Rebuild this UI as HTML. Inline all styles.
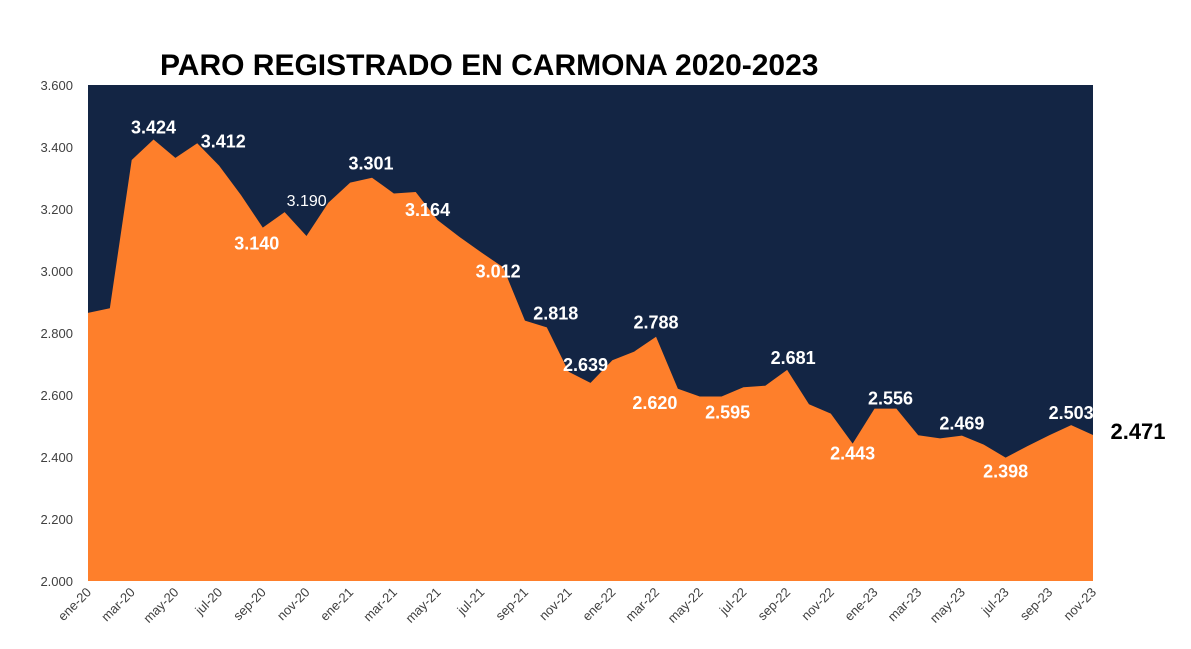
<!DOCTYPE html>
<html><head><meta charset="utf-8"><style>
body{margin:0;background:#fff;}
svg{display:block;font-family:"Liberation Sans",sans-serif;}
</style></head><body>
<svg id="chart" width="1191" height="649">
<text x="160" y="75" font-size="30" font-weight="bold" fill="#000">PARO REGISTRADO EN CARMONA 2020-2023</text>
<rect x="88" y="85" width="1005" height="496" fill="#132544"/>
<g id="marks"></g><g id="axes"></g><g id="labels"></g>
</svg>
<script>
const months=["ene","feb","mar","abr","may","jun","jul","ago","sep","oct","nov","dic"];
const values=[2865,2880,3358,3424,3365,3412,3340,3245,3140,3190,3113,3220,3285,3301,3250,3255,3164,3110,3060,3012,2840,2818,2675,2639,2712,2740,2788,2620,2595,2595,2625,2630,2681,2570,2540,2443,2556,2556,2470,2460,2469,2440,2398,2435,2470,2503,2471];
const yTicks=[2000,2200,2400,2600,2800,3000,3200,3400,3600];
const labelIdx=[3,5,8,9,13,16,19,21,23,26,27,29,32,35,36,40,42,45,46];
const ns="http://www.w3.org/2000/svg";
const X0=88,X1=1093,Y0=581,Y1=85,YMIN=2000,YMAX=3600;
const x=i=>X0+(X1-X0)*i/(values.length-1);
const y=v=>Y0-(v-YMIN)*(Y0-Y1)/(YMAX-YMIN);
const fmt=v=>{const s=String(v);return s.length>3?s.slice(0,-3)+"."+s.slice(-3):s;};
function mk(t,a,p){const e=document.createElementNS(ns,t);for(const k in a)e.setAttribute(k,a[k]);p.appendChild(e);return e;}
const marks=document.getElementById('marks'),axes=document.getElementById('axes'),labs=document.getElementById('labels');
let d="M"+x(0)+","+Y0;values.forEach((v,i)=>d+=" L"+x(i)+","+y(v));d+=" L"+x(values.length-1)+","+Y0+" Z";
const area=mk('path',{d:d,fill:'#fe7f2b'},marks);


yTicks.forEach(t=>{const e=mk('text',{x:73,y:y(t)+5,'text-anchor':'end','font-size':13,fill:'#404040'},axes);e.textContent=fmt(t);

});
values.forEach((v,i)=>{if(i%2)return;const yr=20+Math.floor(i/12);const px=x(i)+4,py=Y0+12;
const e=mk('text',{x:px,y:py,'text-anchor':'end','font-size':13,fill:'#404040',transform:`rotate(-45 ${px} ${py})`},axes);
e.textContent=months[i%12]+"-"+yr;

});
const offs={3:[0,-6],5:[26,4],8:[-6,22],9:[22,-6],13:[-1,-8],16:[-10,-4],19:[-5,10],21:[9,-8],23:[-5,-12],26:[0,-8],27:[-23,20],29:[6,22],32:[6,-6],35:[0,16],36:[16,-4],40:[0,-6],42:[0,20],45:[0,-6],46:[45,4]};
labelIdx.forEach(i=>{const o=offs[i]||[0,-6];const last=i===values.length-1;
const e=mk('text',{x:x(i)+o[0],y:y(values[i])+o[1],'text-anchor':'middle','font-size':last?22:(i===9?16:18),'font-weight':i===9?'normal':'bold',fill:last?'#000':'#fff'},labs);
e.textContent=fmt(values[i]);

});
</script>
</body></html>
